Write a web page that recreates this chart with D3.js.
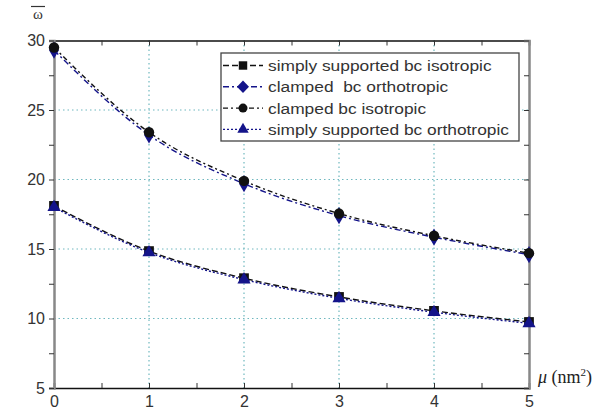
<!DOCTYPE html>
<html>
<head>
<meta charset="utf-8">
<script src="https://cdn.jsdelivr.net/npm/d3@7"></script>
<style>
  body { margin: 0; background: #fff; }
  text { font-family: "Liberation Sans", Arial, sans-serif; white-space: pre; }
</style>
</head>
<body>
<div id="chart"></div>
<script>
const mu = [0, 1, 2, 3, 4, 5],
  ssIso = [18.1, 14.85, 12.9, 11.55, 10.55, 9.75],
  clampedOrtho = [29.3, 23.2, 19.7, 17.4, 15.85, 14.6],
  clampedIso = [29.5, 23.4, 19.9, 17.55, 15.95, 14.7],
  ssOrtho = [18.0, 14.75, 12.8, 11.45, 10.45, 9.65],
  seriesNames = ['simply supported bc isotropic', 'clamped  bc orthotropic',
    'clamped bc isotropic', 'simply supported bc orthotropic'],
  xTicks = [0, 1, 2, 3, 4, 5],
  yTicks = [5, 10, 15, 20, 25, 30];

const width = 614, height = 418,
  margin = { left: 54, right: 85, top: 40.5, bottom: 30 },
  navy = '#14148a';

const series = [
  { name: seriesNames[0], values: ssIso, color: '#111', dash: '6,3', symbol: d3.symbolSquare, size: 95 },
  { name: seriesNames[1], values: clampedOrtho, color: navy, dash: '6,3,2,3', symbol: d3.symbolDiamond, size: 85 },
  { name: seriesNames[2], values: clampedIso, color: '#111', dash: '5,3,2,3', symbol: d3.symbolCircle, size: 85 },
  { name: seriesNames[3], values: ssOrtho, color: navy, dash: '2,2', symbol: d3.symbolTriangle, size: 75 }
];

const svg = d3.select('#chart').append('svg')
  .attr('width', width)
  .attr('height', height);

const x = d3.scaleLinear().domain([0, 5]).range([margin.left, width - margin.right]),
  y = d3.scaleLinear().domain([5, 30]).range([height - margin.bottom, margin.top]);

// grid
svg.append('g')
  .selectAll('line')
  .data(xTicks.slice(1, -1))
  .join('line')
  .attr('x1', d => x(d)).attr('x2', d => x(d))
  .attr('y1', y(30)).attr('y2', y(5))
  .attr('stroke', '#6fb8bf')
  .attr('stroke-width', 1.2)
  .attr('stroke-dasharray', '1.5,3');

svg.append('g')
  .selectAll('line')
  .data(yTicks.slice(1, -1))
  .join('line')
  .attr('x1', x(0)).attr('x2', x(5))
  .attr('y1', d => y(d)).attr('y2', d => y(d))
  .attr('stroke', '#6fb8bf')
  .attr('stroke-width', 1.2)
  .attr('stroke-dasharray', '1.5,3');

// axes
const minorX = d3.range(0, 5.01, 0.5),
  minorY = d3.range(5, 30.01, 2.5);

svg.append('g')
  .attr('transform', `translate(0,${y(5)})`)
  .call(d3.axisBottom(x).tickValues(minorX).tickSize(-5).tickFormat(''))
  .call(g => g.select('.domain').attr('stroke', '#111').attr('stroke-width', 1.6));

svg.append('g')
  .attr('transform', `translate(0,${y(5)})`)
  .call(d3.axisBottom(x).tickValues(xTicks).tickSize(0).tickPadding(8).tickFormat(d3.format('d')))
  .call(g => g.select('.domain').remove())
  .call(g => g.selectAll('text').attr('font-size', 16).attr('fill', '#333'));

svg.append('g')
  .attr('transform', `translate(0,${y(30)})`)
  .call(d3.axisTop(x).tickValues(minorX).tickSize(-5).tickFormat(''))
  .call(g => g.select('.domain').attr('stroke', '#111').attr('stroke-width', 1.6));

svg.append('g')
  .attr('transform', `translate(${x(0)},0)`)
  .call(d3.axisLeft(y).tickValues(minorY).tickSize(5).tickFormat(''))
  .call(g => g.select('.domain').attr('stroke', '#888').attr('stroke-width', 2.5));

svg.append('g')
  .attr('transform', `translate(${x(0)},0)`)
  .call(d3.axisLeft(y).tickValues(yTicks).tickSize(0).tickPadding(9))
  .call(g => g.select('.domain').remove())
  .call(g => g.selectAll('text').attr('font-size', 16).attr('fill', '#333'));

svg.append('g')
  .attr('transform', `translate(${x(5)},0)`)
  .call(d3.axisRight(y).tickValues(minorY).tickSize(-5).tickFormat(''))
  .call(g => g.select('.domain').attr('stroke', '#888').attr('stroke-width', 2.5));

svg.selectAll('.tick line').attr('stroke', '#333');

// series
const line = d3.line().x((d, i) => x(mu[i])).y(d => y(d)).curve(d3.curveMonotoneX);

const seriesGroup = svg.append('g')
  .selectAll('g')
  .data(series)
  .join('g');

seriesGroup.append('path')
  .attr('d', d => line(d.values))
  .attr('fill', 'none')
  .attr('stroke', d => d.color)
  .attr('stroke-width', 1.4)
  .attr('stroke-dasharray', d => d.dash);

seriesGroup.selectAll('path.mark')
  .data(d => d.values.map((v, i) => ({ v, i, s: d })))
  .join('path')
  .attr('class', 'mark')
  .attr('transform', d => `translate(${x(mu[d.i])},${y(d.v)})`)
  .attr('d', d => d3.symbol(d.s.symbol, d.s.size)())
  .attr('fill', d => d.s.color);

// legend
const legend = svg.append('g').attr('transform', 'translate(221,53)');

legend.append('rect')
  .attr('width', 298)
  .attr('height', 88)
  .attr('fill', '#fff')
  .attr('stroke', '#444')
  .attr('stroke-width', 1.3);

const legendRow = legend.selectAll('g')
  .data(series)
  .join('g')
  .attr('transform', (d, i) => `translate(0,${12.5 + i * 21.3})`);

legendRow.append('line')
  .attr('x1', 2).attr('x2', 42)
  .attr('stroke', d => d.color)
  .attr('stroke-width', 1.4)
  .attr('stroke-dasharray', d => d.dash);

legendRow.append('path')
  .attr('transform', d => d.symbol === d3.symbolDiamond ? 'translate(22,0) scale(1.4,0.85)' : 'translate(22,0)')
  .attr('d', d => d3.symbol(d.symbol, d.size * 0.75)())
  .attr('fill', d => d.color);

legendRow.append('text')
  .attr('transform', 'translate(47,0) scale(1.12,1)')
  .attr('dy', '0.35em')
  .attr('font-size', 15.5)
  .attr('fill', '#333')
  .text(d => d.name);

// axis titles
svg.append('text')
  .attr('x', 38).attr('y', 19)
  .attr('text-anchor', 'middle')
  .attr('font-size', 15)
  .style('font-family', '"Liberation Serif", serif')
  .attr('fill', '#333')
  .text('ω');

svg.append('line')
  .attr('x1', 31).attr('x2', 45)
  .attr('y1', 6.5).attr('y2', 6.5)
  .attr('stroke', '#333')
  .attr('stroke-width', 1.2);

const xTitle = svg.append('text')
  .attr('x', 538).attr('y', 383)
  .attr('font-size', 18)
  .style('font-family', '"Liberation Serif", serif')
  .attr('fill', '#222');
xTitle.append('tspan').attr('font-style', 'italic').text('μ');
xTitle.append('tspan').text(' (nm');
xTitle.append('tspan').attr('font-size', 11).attr('dy', -7).text('2');
xTitle.append('tspan').attr('dy', 7).text(')');
</script>
</body>
</html>
